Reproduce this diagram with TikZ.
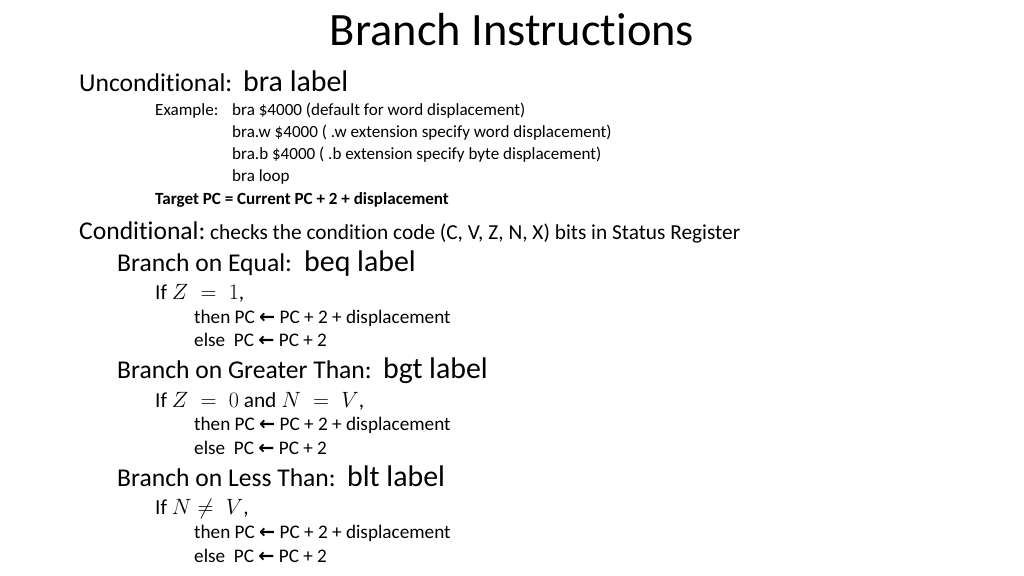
\documentclass[tikz,border=0pt]{standalone}
\usepackage{fontspec}
\setmainfont{Carlito}[Ligatures={NoCommon,NoRare,NoContextual}]
\newfontfamily\arrowfont{DejaVu Sans}
\usepackage{tikz}
\tikzset{line/.style={anchor=base west, inner sep=0pt}}
\newcommand{\fs}[1]{\fontsize{#1}{#1}\selectfont}
\newcommand{\getsarrow}{{\arrowfont\bfseries ←}}

\begin{document}
\begin{tikzpicture}[x=0.9375pt, y=-0.9375pt]
\useasboundingbox (0,0) rectangle (1024,576);
\node (title) at (512,46) [anchor=base, inner sep=0pt] {\fs{43.5}Branch Instructions};

\node (uncond) at (79,92) [line] {\fs{24}Unconditional:};
\node (bra) at (243,92) [line] {\fs{28}bra label};
\node (ex) at (155,116) [line] {\fs{16}Example:};
\node (ex1) at (232,116) [line] {\fs{16}bra \$4000 (default for word displacement)};
\node (ex2) at (232,138) [line] {\fs{16}bra.w \$4000 ( .w extension specify word displacement)};
\node (ex3) at (232,160) [line] {\fs{16}bra.b \$4000 ( .b extension specify byte displacement)};
\node (ex4) at (232,181) [line] {\fs{16}bra loop};
\node (target) at (155,204) [line] {\fs{16}\bfseries Target PC = Current PC + 2 + displacement};

\node (cond) at (79,239) [line] {\fs{24}Conditional:};
\node (checks) at (210,239) [line] {\fs{20}checks the condition code (C, V, Z, N, X) bits in Status Register};

\node (beq) at (117,271) [line] {\fs{24}Branch on Equal:};
\node (beqlbl) at (304,271) [line] {\fs{28}beq label};
\node (beqif) at (155,299) [line] {\fs{20}If $Z\;=\;1$,};
\node (beqthen) at (194,323) [line] {\fs{18}then PC \getsarrow\ PC + 2 + displacement};
\node (beqelse) at (194,346) [line] {\fs{18}else\ \ PC \getsarrow\ PC + 2};

\node (bgt) at (117,378) [line] {\fs{24}Branch on Greater Than:};
\node (bgtlbl) at (383,378) [line] {\fs{28}bgt label};
\node (bgtif) at (155,407) [line] {\fs{20}If $Z\;=\;0$ and $N\;=\;V$,};
\node (bgtthen) at (194,430) [line] {\fs{18}then PC \getsarrow\ PC + 2 + displacement};
\node (bgtelse) at (194,454) [line] {\fs{18}else\ \ PC \getsarrow\ PC + 2};

\node (blt) at (117,486) [line] {\fs{24}Branch on Less Than:};
\node (bltlbl) at (347,486) [line] {\fs{28}blt label};
\node (bltif) at (155,514) [line] {\fs{20}If $N\neq\;V$,};
\node (bltthen) at (194,538) [line] {\fs{18}then PC \getsarrow\ PC + 2 + displacement};
\node (bltelse) at (194,562) [line] {\fs{18}else\ \ PC \getsarrow\ PC + 2};

\end{tikzpicture}
\end{document}
